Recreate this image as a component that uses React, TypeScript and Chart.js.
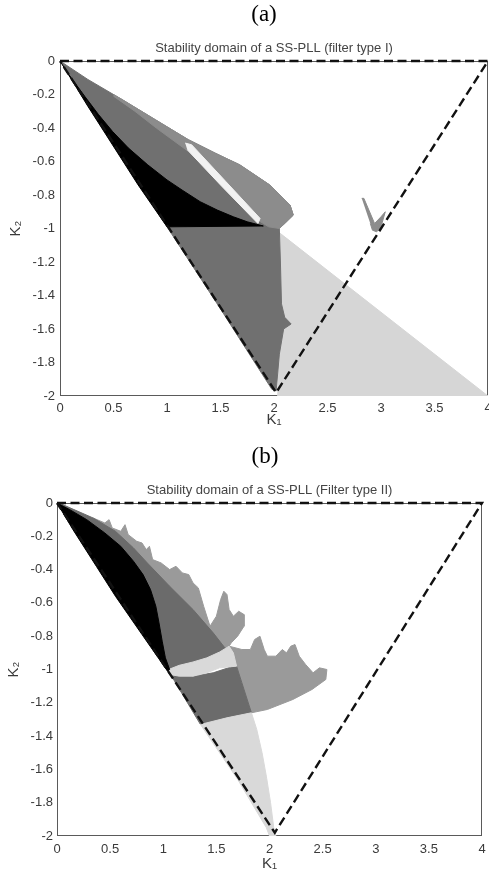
import React, { useEffect, useRef } from "react";
import { Chart, registerables } from "chart.js";

Chart.register(...registerables);

// ---------- axis ticks ----------
const xTickValues = [0, 0.5, 1, 1.5, 2, 2.5, 3, 3.5, 4];
const xTickLabels = ["0", "0.5", "1", "1.5", "2", "2.5", "3", "3.5", "4"];
const yTickValues = [0, -0.2, -0.4, -0.6, -0.8, -1, -1.2, -1.4, -1.6, -1.8, -2];
const yTickLabels = ["0", "-0.2", "-0.4", "-0.6", "-0.8", "-1", "-1.2", "-1.4", "-1.6", "-1.8", "-2"];

// ---------- titles ----------
const titleA = "Stability domain of a SS-PLL (filter type I)";
const titleB = "Stability domain of a SS-PLL (Filter type II)";

// ---------- stability triangle (dashed) ----------
const triAK1 = [0, 4, 2.02, 0];
const triAK2 = [0, 0, -1.98, 0];
const triBK1 = [0, 4, 2.05, 0];
const triBK2 = [0, 0, -1.98, 0];

// ---------- (a) filter type I regions ----------
const aLightK1 = [2.04, 4.0, 2.03];
const aLightK2 = [-1.02, -2.0, -2.0];

const aDarkK1 = [0.0, 0.26, 0.58, 0.89, 1.2, 1.45, 1.68, 1.96, 2.15, 2.18, 2.1, 2.05, 2.06, 2.07, 2.1, 2.16, 2.09, 2.05, 2.02, 1.98, 1.5, 1.0, 0.5, 0.02];
const aDarkK2 = [0.0, -0.11, -0.23, -0.35, -0.47, -0.55, -0.62, -0.74, -0.86, -0.92, -0.97, -1.0, -1.2, -1.45, -1.53, -1.57, -1.6, -1.75, -1.97, -1.96, -1.48, -0.99, -0.5, -0.02];

const aFringeK1 = [0.5, 0.58, 0.89, 1.2, 1.45, 1.68, 1.96, 2.15, 2.18, 2.1, 2.05, 1.95, 1.85, 1.6, 1.35, 1.2, 0.9, 0.7, 0.5];
const aFringeK2 = [-0.2, -0.23, -0.35, -0.47, -0.55, -0.62, -0.74, -0.86, -0.92, -0.97, -1.0, -0.99, -0.95, -0.79, -0.63, -0.54, -0.4, -0.3, -0.21];

const aStreakK1 = [1.17, 1.23, 1.55, 1.87, 1.85, 1.5, 1.19];
const aStreakK2 = [-0.49, -0.5, -0.72, -0.94, -0.97, -0.74, -0.53];

const aBlackK1 = [0.0, 0.07, 0.23, 0.36, 0.49, 0.64, 0.82, 1.0, 1.14, 1.31, 1.47, 1.62, 1.75, 1.9, 1.0, 0.73, 0.42, 0.26, 0.03];
const aBlackK2 = [0.0, -0.07, -0.21, -0.32, -0.42, -0.52, -0.62, -0.71, -0.77, -0.84, -0.89, -0.93, -0.96, -0.985, -0.99, -0.74, -0.43, -0.27, -0.03];

const aSpeckK1 = [2.82, 2.84, 2.94, 3.0, 3.04, 3.0, 2.96, 2.92, 2.9];
const aSpeckK2 = [-0.82, -0.82, -0.97, -0.93, -0.9, -0.99, -1.02, -1.01, -0.97];

// ---------- (b) filter type II regions ----------
const bFringeK1 = [0.34, 0.45, 0.49, 0.52, 0.6, 0.64, 0.67, 0.75, 0.8, 0.84, 0.87, 0.9, 0.98, 1.06, 1.12, 1.18, 1.24, 1.28, 1.33, 1.38, 1.44, 1.5, 1.54, 1.57, 1.6, 1.62, 1.66, 1.71, 1.76, 1.76, 1.7, 1.64, 1.6, 1.45, 1.2, 0.9, 0.6, 0.34];
const bFringeK2 = [-0.09, -0.12, -0.1, -0.15, -0.17, -0.13, -0.19, -0.23, -0.24, -0.28, -0.26, -0.34, -0.36, -0.4, -0.38, -0.42, -0.43, -0.48, -0.51, -0.62, -0.74, -0.68, -0.58, -0.53, -0.55, -0.64, -0.68, -0.65, -0.67, -0.74, -0.8, -0.84, -0.88, -0.82, -0.66, -0.45, -0.25, -0.12];

const bWingK1 = [1.62, 1.74, 1.82, 1.86, 1.91, 1.95, 1.98, 2.06, 2.12, 2.16, 2.2, 2.24, 2.28, 2.34, 2.41, 2.47, 2.54, 2.53, 2.4, 2.22, 1.98, 1.83, 1.74, 1.69];
const bWingK2 = [-0.86, -0.88, -0.88, -0.82, -0.8, -0.88, -0.92, -0.92, -0.88, -0.9, -0.86, -0.85, -0.92, -0.97, -1.02, -0.99, -1.0, -1.06, -1.12, -1.18, -1.24, -1.26, -1.08, -0.98];

const bDarkAK1 = [0.02, 0.09, 0.34, 0.55, 0.72, 0.85, 1.06, 1.28, 1.47, 1.58, 1.63, 1.5, 1.25, 1.06, 0.9, 0.5, 0.02];
const bDarkAK2 = [0.0, -0.02, -0.09, -0.17, -0.27, -0.36, -0.5, -0.64, -0.78, -0.87, -0.89, -0.96, -1.0, -1.03, -0.85, -0.45, -0.01];

const bDarkBK1 = [1.06, 1.28, 1.47, 1.66, 1.69, 1.74, 1.83, 1.6, 1.35, 1.2, 1.06];
const bDarkBK2 = [-1.02, -1.04, -1.02, -0.98, -0.98, -1.08, -1.26, -1.29, -1.33, -1.17, -1.02];

const bCrescentK1 = [1.05, 1.15, 1.28, 1.41, 1.53, 1.62, 1.66, 1.69, 1.53, 1.41, 1.28, 1.15, 1.06];
const bCrescentK2 = [-1.0, -0.975, -0.955, -0.93, -0.895, -0.86, -0.9, -0.98, -0.99, -1.02, -1.04, -1.04, -1.03];

const bLightK1 = [1.35, 1.6, 1.83, 1.88, 1.93, 1.97, 2.01, 2.04, 2.06, 2.0, 1.97, 1.7, 1.35];
const bLightK2 = [-1.33, -1.29, -1.26, -1.36, -1.5, -1.64, -1.8, -1.95, -2.0, -2.0, -1.95, -1.66, -1.33];

const bBlackK1 = [0.0, 0.12, 0.28, 0.45, 0.6, 0.72, 0.81, 0.88, 0.93, 0.96, 0.99, 1.02, 1.06, 1.04, 0.8, 0.55, 0.37, 0.15, 0.01];
const bBlackK2 = [0.0, -0.04, -0.1, -0.18, -0.26, -0.35, -0.43, -0.52, -0.62, -0.72, -0.83, -0.93, -1.0, -1.01, -0.79, -0.56, -0.38, -0.16, -0.01];

// ---------- helpers ----------
const SANS = "'Liberation Sans', Arial, Helvetica, sans-serif";

function shape(k1: number[], k2: number[], color: string) {
  return {
    data: k1.map((x, i) => ({ x, y: k2[i] })),
    fill: "shape",
    backgroundColor: color,
    borderColor: color,
    borderWidth: 1,
    pointRadius: 0,
    tension: 0,
  };
}

function dashed(k1: number[], k2: number[]) {
  return {
    data: k1.map((x, i) => ({ x, y: k2[i] })),
    fill: false,
    borderColor: "#111111",
    borderWidth: 2.4,
    borderDash: [9, 4.5],
    pointRadius: 0,
    tension: 0,
    clip: 6,
  };
}

const framePlugin = {
  id: "frame",
  beforeDatasetsDraw(chart: any) {
    const { ctx, chartArea: a } = chart;
    ctx.save();
    ctx.strokeStyle = "#5a5a5a";
    ctx.lineWidth = 1;
    ctx.strokeRect(a.left + 0.5, a.top + 0.5, a.right - a.left - 1, a.bottom - a.top - 1);
    ctx.restore();
  },
};

type Cfg = {
  title: string;
  datasets: any[];
  yWidth: number;
  padRight: number;
  titleTop: number;
  chartTop: number;
  yTitlePad: number;
  yTickPad: number;
  xTickPad: number;
  xTitlePad: number;
};

function Plot({ cfg }: { cfg: Cfg }) {
  const ref = useRef<HTMLCanvasElement | null>(null);
  useEffect(() => {
    if (!ref.current) return;
    const lh = 13 * 1.2;
    const chart = new Chart(ref.current, {
      type: "line",
      data: { datasets: cfg.datasets },
      plugins: [framePlugin],
      options: {
        animation: false,
        responsive: false,
        events: [],
        layout: { padding: { left: 0, right: cfg.padRight, top: 0, bottom: 0 } },
        plugins: {
          legend: { display: false },
          tooltip: { enabled: false },
          title: {
            display: true,
            text: cfg.title,
            fullSize: false,
            color: "#444444",
            font: { family: SANS, size: 13, weight: "normal" },
            padding: { top: cfg.titleTop, bottom: cfg.chartTop - cfg.titleTop - lh },
          },
        },
        scales: {
          x: {
            type: "linear",
            min: 0,
            max: 4,
            grid: { display: false, drawTicks: false },
            border: { display: false },
            afterBuildTicks: (s: any) => {
              s.ticks = xTickValues.map((v) => ({ value: v }));
            },
            ticks: {
              color: "#3a3a3a",
              font: { family: SANS, size: 13 },
              padding: cfg.xTickPad,
              maxRotation: 0,
              autoSkip: false,
              callback: (v: any) => {
                const i = xTickValues.findIndex((t) => Math.abs(t - Number(v)) < 1e-9);
                return i >= 0 ? xTickLabels[i] : "";
              },
            },
            title: {
              display: true,
              text: "K₁",
              color: "#3a3a3a",
              font: { family: SANS, size: 15 },
              padding: { top: 0, bottom: cfg.xTitlePad },
            },
            afterFit: (s: any) => {
              s.height = 44;
              s.paddingLeft = 0;
              s.paddingRight = 0;
            },
          },
          y: {
            type: "linear",
            min: -2,
            max: 0,
            grid: { display: false, drawTicks: false },
            border: { display: false },
            afterBuildTicks: (s: any) => {
              s.ticks = yTickValues.map((v) => ({ value: v }));
            },
            ticks: {
              color: "#3a3a3a",
              font: { family: SANS, size: 13 },
              padding: cfg.yTickPad,
              autoSkip: false,
              callback: (v: any) => {
                const i = yTickValues.findIndex((t) => Math.abs(t - Number(v)) < 1e-9);
                return i >= 0 ? yTickLabels[i] : "";
              },
            },
            title: {
              display: true,
              text: "K₂",
              color: "#3a3a3a",
              font: { family: SANS, size: 15 },
              padding: { top: cfg.yTitlePad, bottom: 0 },
            },
            afterFit: (s: any) => {
              s.width = cfg.yWidth;
              s.paddingTop = 0;
              s.paddingBottom = 0;
            },
          },
        },
      } as any,
    });
    return () => chart.destroy();
  }, [cfg]);
  return <canvas ref={ref} width={489} height={440} style={{ display: "block", width: 489, height: 440 }} />;
}

const cfgA: Cfg = {
  title: titleA,
  datasets: [
    dashed(triAK1, triAK2),
    shape(aBlackK1, aBlackK2, "#000000"),
    shape(aStreakK1, aStreakK2, "#f2f2f2"),
    shape(aFringeK1, aFringeK2, "#8c8c8c"),
    shape(aDarkK1, aDarkK2, "#707070"),
    shape(aLightK1, aLightK2, "#d6d6d6"),
    shape(aSpeckK1, aSpeckK2, "#8c8c8c"),
  ],
  yWidth: 60,
  padRight: 1,
  titleTop: 40.2,
  chartTop: 61,
  yTitlePad: 7,
  yTickPad: 5,
  xTickPad: 5,
  xTitlePad: 11,
};

const cfgB: Cfg = {
  title: titleB,
  datasets: [
    dashed(triBK1, triBK2),
    shape(bBlackK1, bBlackK2, "#000000"),
    shape(bCrescentK1, bCrescentK2, "#d9d9d9"),
    shape(bLightK1, bLightK2, "#d9d9d9"),
    shape(bDarkBK1, bDarkBK2, "#6b6b6b"),
    shape(bDarkAK1, bDarkAK2, "#6b6b6b"),
    shape(bWingK1, bWingK2, "#9a9a9a"),
    shape(bFringeK1, bFringeK2, "#9a9a9a"),
  ],
  yWidth: 57,
  padRight: 7,
  titleTop: 42.2,
  chartTop: 63,
  yTitlePad: 5,
  yTickPad: 4,
  xTickPad: 6,
  xTitlePad: 7,
};

const capStyle: React.CSSProperties = {
  position: "absolute",
  transform: "translateX(-50%)",
  fontFamily: "'Liberation Serif', 'Times New Roman', serif",
  fontSize: 23,
  lineHeight: "23px",
  color: "#000",
  whiteSpace: "nowrap",
};

export default function App() {
  return (
    <div style={{ position: "absolute", left: 0, top: 0, width: 489, height: 880, background: "#fff", overflow: "hidden" }}>
      <div style={{ position: "absolute", left: 0, top: 0 }}>
        <Plot cfg={cfgA} />
      </div>
      <div style={{ position: "absolute", left: 0, top: 440 }}>
        <Plot cfg={cfgB} />
      </div>
      <div style={{ ...capStyle, left: 264, top: 1.5 }}>(a)</div>
      <div style={{ ...capStyle, left: 265, top: 443.5 }}>(b)</div>
    </div>
  );
}
